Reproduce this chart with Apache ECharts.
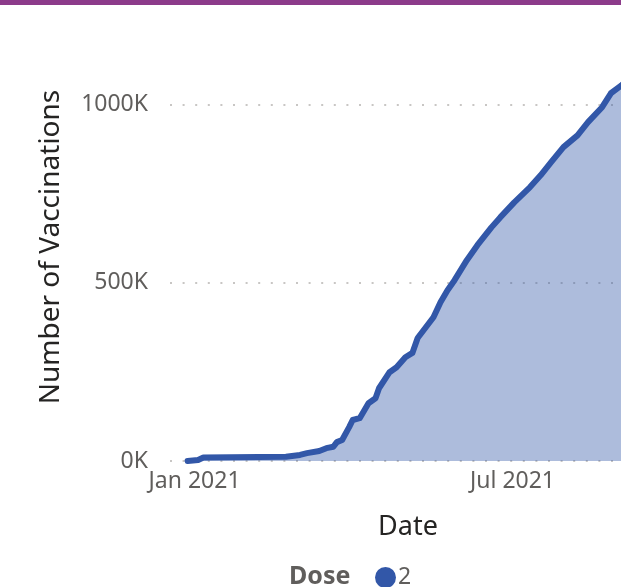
<!DOCTYPE html>
<html>
<head>
<meta charset="utf-8">
<script src="https://cdn.jsdelivr.net/npm/echarts@6/dist/echarts.min.js"></script>
<style>
html,body{margin:0;padding:0;overflow:hidden;background:#fff;width:621px;height:587px;}
#chart{width:700px;height:587px;}
</style>
</head>
<body>
<div id="chart"></div>
<script>
// Data (cumulative dose 2 vaccinations)
const dates = ['2020-12-28','2021-01-03','2021-01-06','2021-02-22','2021-03-02','2021-03-06','2021-03-13','2021-03-17','2021-03-21','2021-03-23','2021-03-26','2021-03-27','2021-03-30','2021-04-01','2021-04-05','2021-04-10','2021-04-14','2021-04-16','2021-04-22','2021-04-26','2021-05-01','2021-05-05','2021-05-08','2021-05-17','2021-05-21','2021-05-25','2021-05-29','2021-06-05','2021-06-11','2021-06-19','2021-06-24','2021-07-02','2021-07-11','2021-07-17','2021-07-23','2021-07-30','2021-08-07','2021-08-13','2021-08-21','2021-08-26','2021-09-01','2021-09-08'];
const values = [0,3000,10000,12000,17000,22000,28000,36000,40000,53000,59000,64000,95000,115000,120000,162000,176000,204000,249000,263000,291000,303000,345000,403000,445000,479000,507000,563000,605000,655000,683000,725000,768000,801000,838000,880000,913000,950000,992000,1031000,1053000,1085000];
const xTickDates = ['2021-01-01','2021-07-01'];
const xTickLabels = ['Jan 2021','Jul 2021'];
const yTicks = [0,500000,1000000];
const seriesName = '2';

function toTime(s){const p=s.split('-').map(Number);return new Date(p[0],p[1]-1,p[2]).getTime();}
const xTickTimes = xTickDates.map(toTime);

const chart = echarts.init(document.getElementById('chart'), null, {renderer:'canvas'});
const FONT = '"Noto Sans", "Open Sans", sans-serif';
chart.setOption({
  animation:false,
  grid:{left:170,right:54,top:33,bottom:126},
  xAxis:{
    type:'time',
    min:toTime('2020-12-18'),
    max:toTime('2021-09-15'),
    name:'Date',
    nameLocation:'middle',
    nameGap:53,
    nameTextStyle:{fontFamily:FONT,fontSize:27,color:'#252423'},
    axisLine:{show:false},
    axisTick:{show:false},
    splitLine:{show:false},
    axisLabel:{
      fontFamily:FONT,fontSize:23,color:'#605E5C',margin:9,
      hideOverlap:false,
      formatter:function(v){
        const d=new Date(v);
        for(let k=0;k<xTickTimes.length;k++){const t=new Date(xTickTimes[k]);if(d.getFullYear()===t.getFullYear()&&d.getMonth()===t.getMonth()&&d.getDate()===1)return xTickLabels[k];}
        return '';
      }
    }
  },
  yAxis:{
    type:'value',
    min:0,max:1200000,interval:500000,
    name:'Number of Vaccinations',
    nameLocation:'middle',
    nameGap:105,
    nameTextStyle:{fontFamily:FONT,fontSize:28,color:'#252423'},
    axisLine:{show:false},
    axisTick:{show:false},
    axisLabel:{
      showMaxLabel:false,
      fontFamily:FONT,fontSize:23,color:'#605E5C',margin:22,
      formatter:function(v){return yTicks.indexOf(v)>=0 ? (v/1000)+'K' : '';}
    },
    splitLine:{show:true,showMaxLine:false,lineStyle:{color:'#C8C6C4',width:2,type:[2,10.6]}}
  },
  legend:{
    show:true,
    left:370,
    top:561,
    icon:'circle',
    itemWidth:21,itemHeight:21,itemGap:4,
    textStyle:{fontFamily:FONT,fontSize:23,color:'#605E5C',padding:[0,0,0,-3]},
    data:[seriesName]
  },
  graphic:[
    {type:'rect',left:0,top:0,shape:{width:700,height:5},style:{fill:'#8C3B8A'},z:100},
    {type:'text',left:289,top:564,style:{text:'Dose',font:'bold 25px "Noto Sans", sans-serif',fill:'#605E5C'}}
  ],
  series:[{
    name:seriesName,
    type:'line',
    data:dates.map((d,i)=>[toTime(d),values[i]]),
    showSymbol:false,
    symbol:'circle',
    color:'#3257A8',
    lineStyle:{width:6,color:'#3257A8',join:'round',cap:'round'},
    areaStyle:{color:'#3257A8',opacity:0.4}
  }]
});
</script>
</body>
</html>
